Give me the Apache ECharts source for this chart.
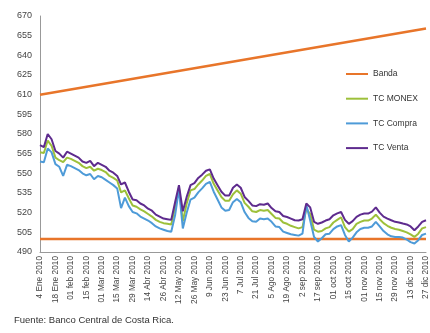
<!DOCTYPE html>
<html>
<head>
<meta charset="utf-8">
<script src="https://cdn.jsdelivr.net/npm/echarts@6/dist/echarts.min.js"></script>
<style>
  html, body { margin: 0; padding: 0; background: #fff; }
  #chart { width: 430px; height: 333px; }
</style>
</head>
<body>
<div id="chart"></div>
<script>
// etiquetas del eje x (una cada 10 días hábiles)
const tickLabels = ["4 Ene 2010", "18 Ene 2010", "01 feb 2010", "15 feb 2010", "01 Mar 2010", "15 Mar 2010",
  "29 Mar 2010", "14 Abr 2010", "26 Abr 2010", "12 May 2010", "26 May 2010", "9 Jun 2010", "23 Jun 2010",
  "7 Jul 2010", "21 Jul 2010", "5 Ago 2010", "19 Ago 2010", "2 sep 2010", "17 sep 2010", "01 oct 2010",
  "15 oct 2010", "01 nov 2010", "15 nov 2010", "29 nov 2010", "13 dic 2010", "27 dic 2010"];

const venta = [571.5, 570, 580, 576, 567, 565, 562, 566.5, 565, 563.5, 562, 559, 558, 559.5, 555.5, 558, 556.5, 555, 552, 550.5,
  548, 541.5, 543, 536, 530, 529.5, 527, 525.5, 523, 521.5, 518.5, 517, 515.5, 515, 514.5, 528, 541, 521, 532, 541,
  542.5, 546.5, 549, 552, 553, 546, 541, 536, 533, 533, 539, 541.5, 539, 532, 529, 525.5, 525, 526.5, 526, 527,
  523.5, 521, 520.5, 517.5, 516.7, 515.5, 514.2, 514, 515, 527, 524, 513, 511.5, 512.5, 514, 515, 518, 519.5, 520.5, 514.5,
  511.5, 513.5, 516.8, 518.5, 519.3, 519.3, 520.8, 524, 520, 517, 515.5, 514.2, 513, 512.5, 511.7, 511, 509.5, 506.6, 509.5, 513,
  514.2];

const monex = [566, 565.5, 575, 571, 562, 560, 558.5, 562, 561, 559.5, 558, 555.5, 554, 555, 552, 553.5, 552.5, 551, 548, 546.5,
  544.5, 535.5, 537, 531, 525.5, 524.5, 522.5, 521, 519, 517, 514.5, 513, 512, 511.5, 511, 524, 539, 513.5, 527, 537,
  538, 541.5, 544.5, 548, 549.5, 542, 537, 532, 529, 529, 534, 537, 534.5, 527.5, 524.5, 521, 520.5, 522, 521.5, 522,
  519, 516, 515.5, 512.5, 511.5, 510, 509, 508, 509, 523, 519, 507, 505.5, 506, 508, 509, 512.5, 514.5, 516.5, 509,
  505.5, 507.5, 511.5, 513, 514, 514, 515.5, 518.5, 515, 512, 510, 508.5, 507.5, 507, 506, 505, 503.5, 501.5, 504, 508,
  509];

const compra = [559, 558.5, 569, 566, 557, 555, 548, 556.5, 555.5, 554, 552.5, 550, 548.5, 549.5, 545.5, 548, 547, 545, 543, 541,
  538.5, 523.5, 531.5, 525, 520.5, 519.5, 517, 515.5, 514, 512, 509.5, 508, 507, 506, 505.5, 518, 538, 508, 520, 530,
  531.5, 535.5, 538.5, 542, 543.5, 536, 530, 524, 521.5, 522, 528, 530.5, 528, 520.5, 516, 513.5, 513, 515.5, 515, 515.5,
  513, 509.5, 509, 505.5, 504.5, 503.5, 503, 502.5, 504, 526, 514, 501.5, 498, 500.5, 503.5, 504, 507.5, 509.5, 510.5, 503,
  498, 501, 505, 507.5, 508.5, 508.5, 509.5, 513, 509.5, 506, 503.5, 502, 501.5, 501.5, 501, 499.5, 497.5, 496.5, 499, 503,
  504];

// banda cambiaria: techo y piso (inicio y fin)
const bandaTecho = [610, 660.5];
const bandaPiso = [500, 500];

const yTicks = { min: 490, max: 670, interval: 15 };

const perTick = 4;
const categories = [];
tickLabels.forEach(t => {
  categories.push(t);
  for (let k = 1; k < perTick; k++) categories.push("");
});
categories.length = venta.length;
const last = venta.length - 1;

const font = "Liberation Sans, Arial, sans-serif";
const chart = echarts.init(document.getElementById("chart"));

const option = {
  animation: false,
  backgroundColor: "#fff",
  grid: { left: 40, right: 0, top: 16, bottom: 81 },
  legend: {
    orient: "vertical",
    left: 341,
    top: 64,
    icon: "rect",
    itemWidth: 22,
    itemHeight: 2,
    itemGap: 14.7,
    textStyle: { fontSize: 8.5, color: "#333", fontFamily: font, lineHeight: 10 },
    data: ["Banda", "TC MONEX", "TC Compra", "TC Venta"]
  },
  xAxis: {
    type: "category",
    boundaryGap: false,
    data: categories,
    axisLine: { lineStyle: { color: "#999", width: 1 } },
    axisTick: { show: false },
    axisLabel: {
      interval: perTick - 1,
      rotate: 90,
      fontSize: 8.3,
      color: "#444",
      fontFamily: font,
      margin: 4,
      hideOverlap: false
    },
    splitLine: { show: false }
  },
  yAxis: {
    type: "value",
    min: yTicks.min,
    max: yTicks.max,
    interval: yTicks.interval,
    axisLine: { show: true, lineStyle: { color: "#999", width: 1 } },
    axisTick: { show: false },
    axisLabel: { fontSize: 9, color: "#444", fontFamily: font, margin: 8 },
    splitLine: { show: false }
  },
  graphic: [{
    type: "text",
    left: 14,
    top: 315,
    style: { text: "Fuente: Banco Central de Costa Rica.", fontSize: 9.5, fill: "#333", fontFamily: font }
  }],
  series: [
    {
      name: "Banda", type: "line", showSymbol: false, symbol: "none",
      lineStyle: { color: "#E8752A", width: 2.5 }, itemStyle: { color: "#E8752A" },
      data: [[0, bandaTecho[0]], [last, bandaTecho[1]]]
    },
    {
      name: "Banda", type: "line", showSymbol: false, symbol: "none",
      lineStyle: { color: "#E8752A", width: 2.5 }, itemStyle: { color: "#E8752A" },
      data: [[0, bandaPiso[0]], [last, bandaPiso[1]]]
    },
    {
      name: "TC MONEX", type: "line", showSymbol: false, symbol: "none",
      lineStyle: { color: "#9DC03A", width: 2 }, itemStyle: { color: "#9DC03A" },
      data: monex
    },
    {
      name: "TC Compra", type: "line", showSymbol: false, symbol: "none",
      lineStyle: { color: "#4E9BD8", width: 2 }, itemStyle: { color: "#4E9BD8" },
      data: compra
    },
    {
      name: "TC Venta", type: "line", showSymbol: false, symbol: "none",
      lineStyle: { color: "#5E2B8E", width: 2 }, itemStyle: { color: "#5E2B8E" },
      data: venta
    }
  ]
};
chart.setOption(option);
</script>
</body>
</html>
